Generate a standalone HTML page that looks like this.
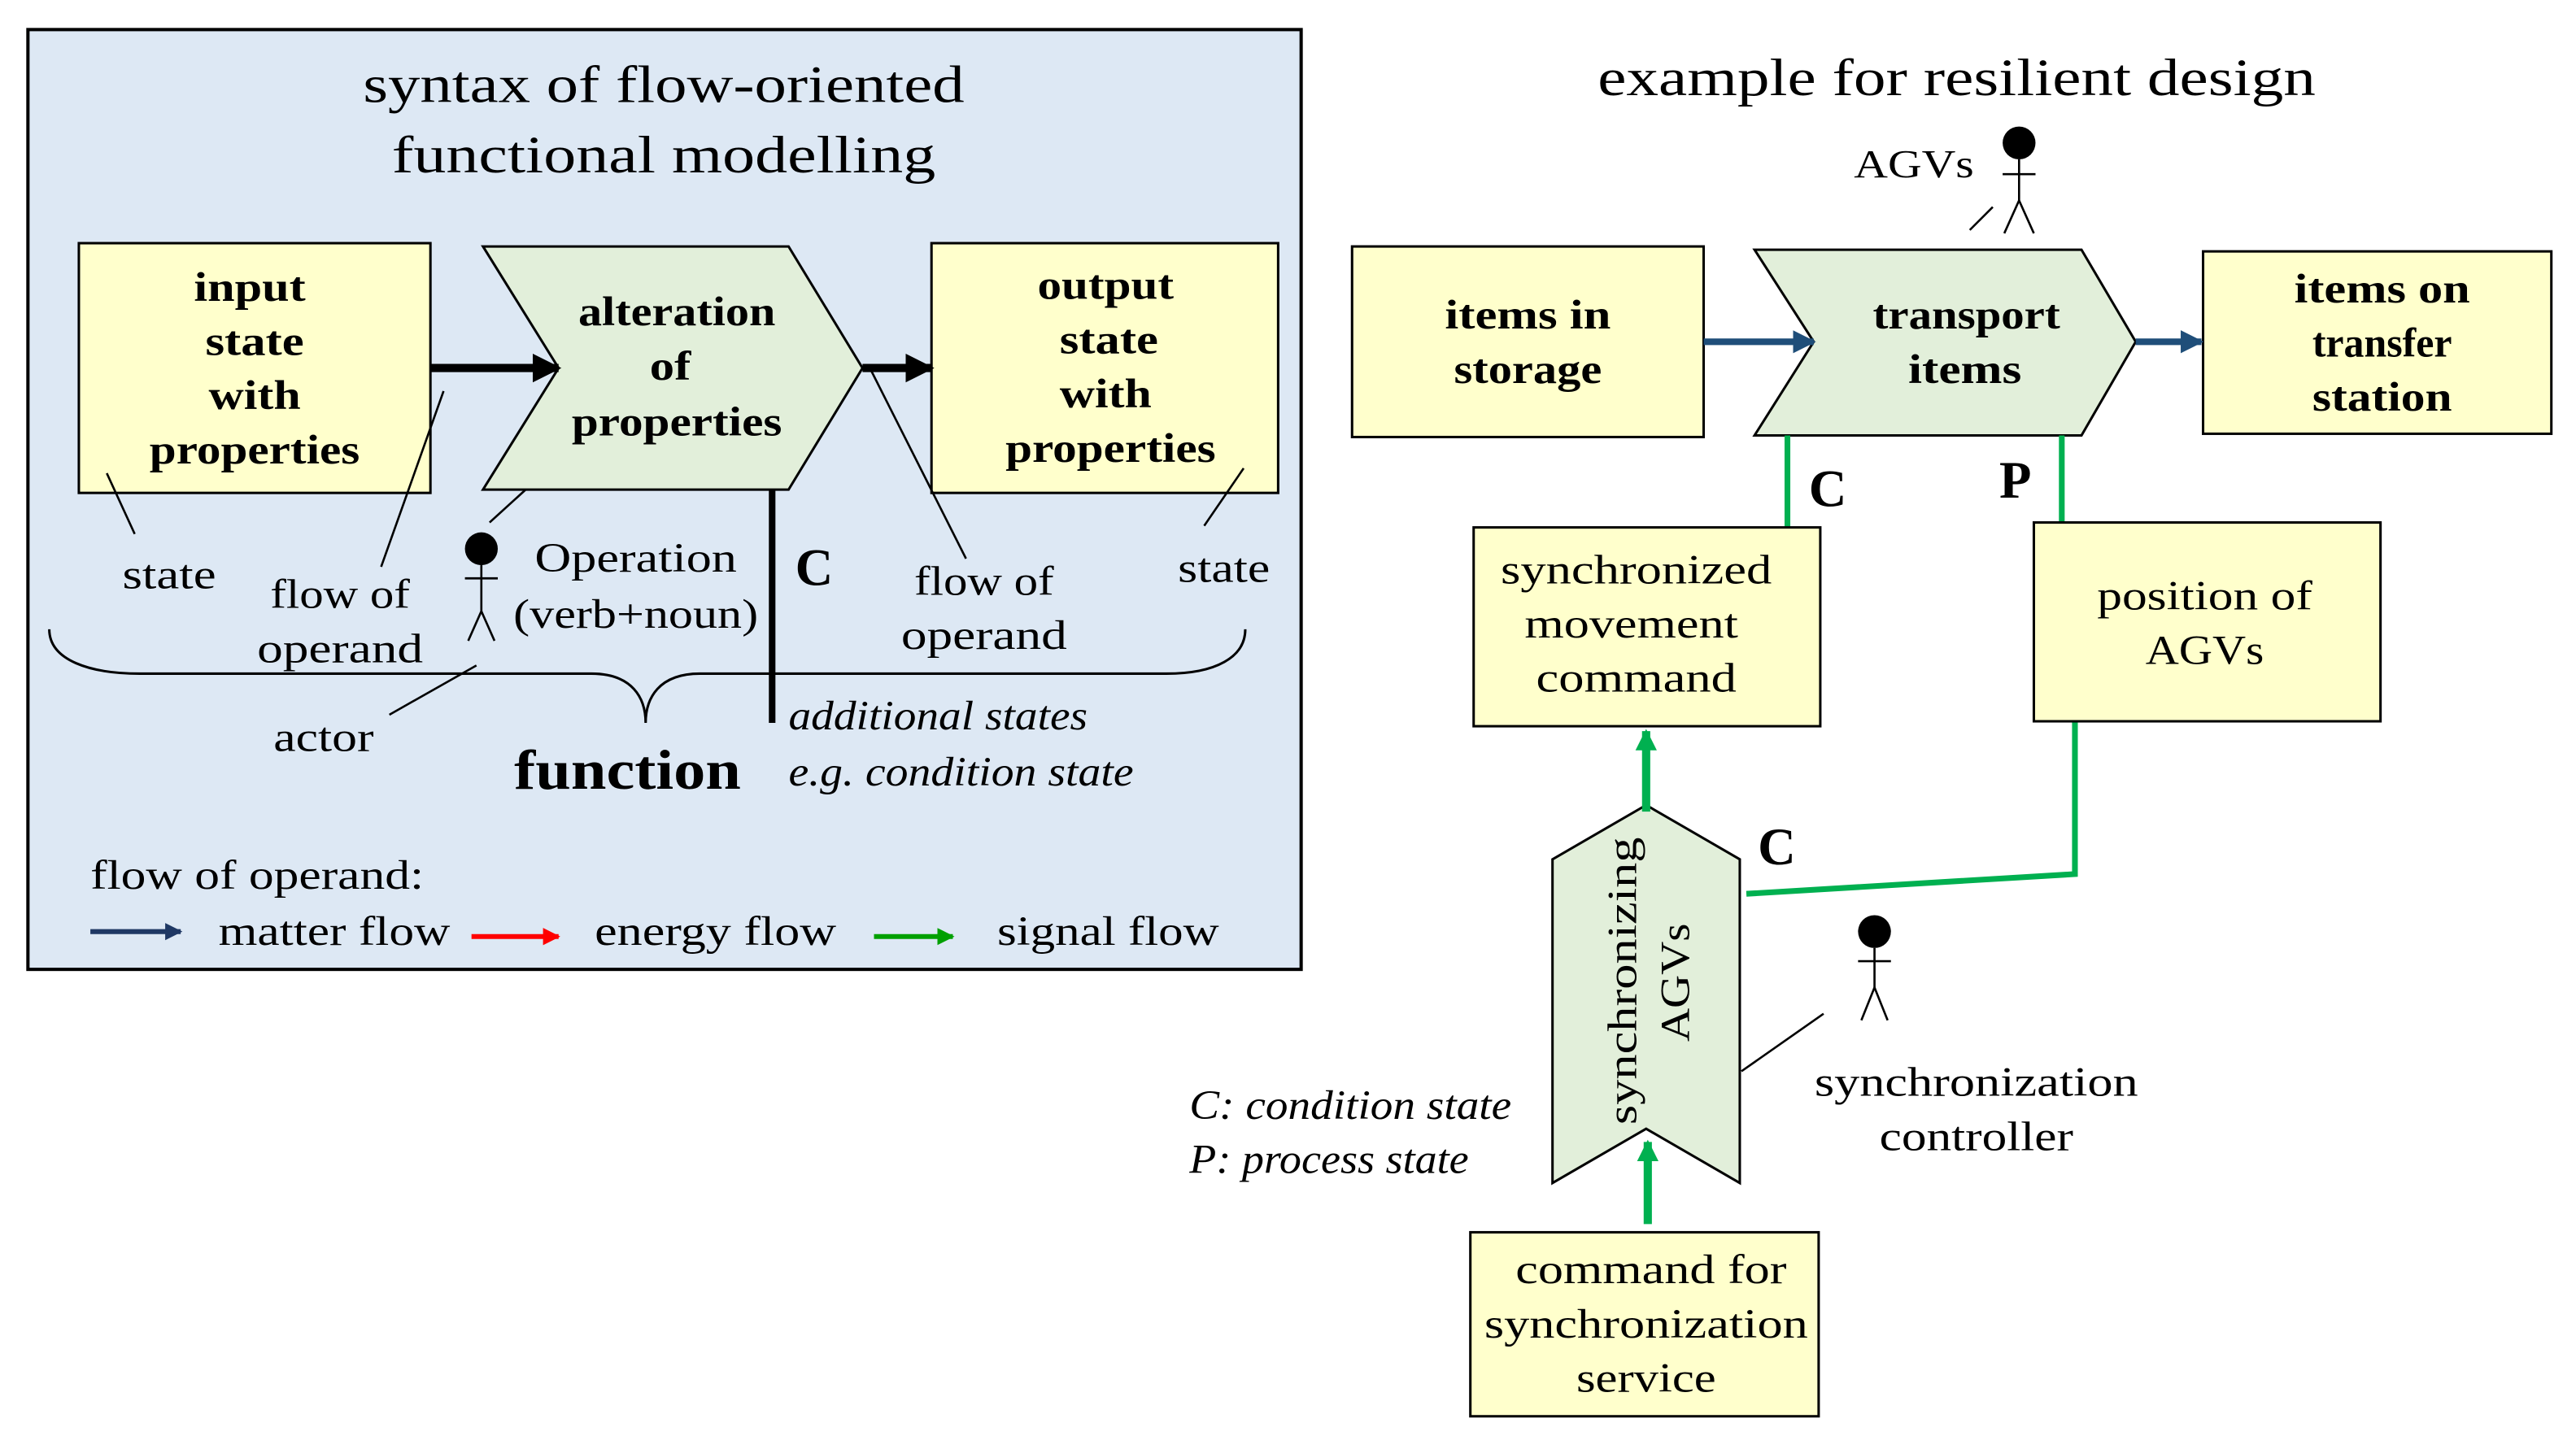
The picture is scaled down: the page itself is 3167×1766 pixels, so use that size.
<!DOCTYPE html>
<html><head><meta charset="utf-8"><style>
html,body{margin:0;padding:0;background:#fff}
svg{display:block}
text{font-family:"Liberation Serif","DejaVu Serif",serif;fill:#000}
.b{font-weight:bold}
.m{text-anchor:middle}
.i{font-style:italic}
</style></head><body>
<svg width="3167" height="1766" viewBox="0 0 1568 874" preserveAspectRatio="none" xmlns="http://www.w3.org/2000/svg">
<defs>
<marker id="ak" viewBox="0 0 10 10" refX="9" refY="5" markerWidth="3.5" markerHeight="3.5" orient="auto"><path d="M0,0L10,5L0,10z" fill="#000"/></marker>
<marker id="ab" viewBox="0 0 10 10" refX="9" refY="5" markerWidth="3.5" markerHeight="3.5" orient="auto"><path d="M0,0L10,5L0,10z" fill="#1f4e79"/></marker>
<marker id="an" viewBox="0 0 10 10" refX="9" refY="5" markerWidth="3.5" markerHeight="3.5" orient="auto"><path d="M0,0L10,5L0,10z" fill="#1f3864"/></marker>
<marker id="ar" viewBox="0 0 10 10" refX="9" refY="5" markerWidth="3.5" markerHeight="3.5" orient="auto"><path d="M0,0L10,5L0,10z" fill="#ff0000"/></marker>
<marker id="ag" viewBox="0 0 10 10" refX="9" refY="5" markerWidth="3.5" markerHeight="3.5" orient="auto"><path d="M0,0L10,5L0,10z" fill="#00a000"/></marker>
<marker id="ag2" viewBox="0 0 10 10" refX="9" refY="5" markerWidth="2.6" markerHeight="2.6" orient="auto"><path d="M0,0L10,5L0,10z" fill="#00b050"/></marker>
</defs>
<g lengthAdjust="spacingAndGlyphs">
<!-- left panel -->
<rect x="17" y="18" width="775" height="572" fill="#dde8f4" stroke="#000" stroke-width="2"/>
<text class="m" x="404" y="62" font-size="32" textLength="366" lengthAdjust="spacingAndGlyphs">syntax of flow-oriented</text>
<text class="m" x="404" y="105" font-size="32" textLength="331" lengthAdjust="spacingAndGlyphs">functional modelling</text>
<rect x="48" y="148" width="214" height="152" fill="#ffffcc" stroke="#000" stroke-width="1.5"/>
<text class="b m" x="152" y="183" font-size="25" textLength="68" lengthAdjust="spacingAndGlyphs">input</text>
<text class="b m" x="155" y="216" font-size="25" textLength="60" lengthAdjust="spacingAndGlyphs">state</text>
<text class="b m" x="155" y="249" font-size="25" textLength="56" lengthAdjust="spacingAndGlyphs">with</text>
<text class="b m" x="155" y="282" font-size="25" textLength="128" lengthAdjust="spacingAndGlyphs">properties</text>
<polygon points="294,150 480,150 525,224 480,298 294,298 340,224" fill="#e2efda" stroke="#000" stroke-width="1.5"/>
<text class="b m" x="412" y="198" font-size="25" textLength="120" lengthAdjust="spacingAndGlyphs">alteration</text>
<text class="b m" x="408" y="231" font-size="25" textLength="25" lengthAdjust="spacingAndGlyphs">of</text>
<text class="b m" x="412" y="265" font-size="25" textLength="128" lengthAdjust="spacingAndGlyphs">properties</text>
<rect x="567" y="148" width="211" height="152" fill="#ffffcc" stroke="#000" stroke-width="1.5"/>
<text class="b m" x="673" y="182" font-size="25" textLength="83" lengthAdjust="spacingAndGlyphs">output</text>
<text class="b m" x="675" y="215" font-size="25" textLength="60" lengthAdjust="spacingAndGlyphs">state</text>
<text class="b m" x="673" y="248" font-size="25" textLength="56" lengthAdjust="spacingAndGlyphs">with</text>
<text class="b m" x="676" y="281" font-size="25" textLength="128" lengthAdjust="spacingAndGlyphs">properties</text>
<line x1="262" y1="224" x2="340" y2="224" stroke="#000" stroke-width="5" marker-end="url(#ak)"/>
<line x1="525" y1="224" x2="567" y2="224" stroke="#000" stroke-width="5" marker-end="url(#ak)"/>
<line x1="470" y1="298" x2="470" y2="440" stroke="#000" stroke-width="4"/>
<text class="b" x="484" y="356" font-size="32">C</text>
<g stroke="#000" stroke-width="1.3">
<line x1="65" y1="288" x2="82" y2="325"/><line x1="270" y1="238" x2="232" y2="345"/><line x1="320" y1="298" x2="298" y2="318"/><line x1="530" y1="225" x2="588" y2="340"/><line x1="757" y1="285" x2="733" y2="320"/><line x1="290" y1="405" x2="237" y2="435"/>
</g>
<text class="m" x="103" y="358" font-size="25" textLength="57" lengthAdjust="spacingAndGlyphs">state</text>
<text class="m" x="207" y="370" font-size="25" textLength="85" lengthAdjust="spacingAndGlyphs">flow of</text>
<text class="m" x="207" y="403" font-size="25" textLength="101" lengthAdjust="spacingAndGlyphs">operand</text>
<text class="m" x="387" y="348" font-size="25" textLength="123" lengthAdjust="spacingAndGlyphs">Operation</text>
<text class="m" x="387" y="382" font-size="25" textLength="149" lengthAdjust="spacingAndGlyphs">(verb+noun)</text>
<text class="m" x="599" y="362" font-size="25" textLength="85" lengthAdjust="spacingAndGlyphs">flow of</text>
<text class="m" x="599" y="395" font-size="25" textLength="101" lengthAdjust="spacingAndGlyphs">operand</text>
<text class="m" x="745" y="354" font-size="25" textLength="56" lengthAdjust="spacingAndGlyphs">state</text>
<text class="m" x="197" y="457" font-size="25" textLength="61" lengthAdjust="spacingAndGlyphs">actor</text>
<circle cx="293" cy="334" r="10" fill="#000"/>
<g stroke="#000" stroke-width="1.3" fill="none"><line x1="293" y1="344" x2="293" y2="372"/><line x1="283" y1="352" x2="303" y2="352"/><polyline points="285,390 293,372 301,390"/></g>
<path d="M30,383 C30,402 55,410 85,410 L360,410 C385,410 393,425 393,440 C393,425 401,410 426,410 L710,410 C740,410 758,400 758,383" fill="none" stroke="#000" stroke-width="1.5"/>
<text class="b m" x="382" y="480" font-size="34" textLength="138" lengthAdjust="spacingAndGlyphs">function</text>
<text class="i" x="480" y="444" font-size="25" textLength="182" lengthAdjust="spacingAndGlyphs">additional states</text>
<text class="i" x="480" y="478" font-size="25" textLength="210" lengthAdjust="spacingAndGlyphs">e.g. condition state</text>
<text x="55" y="541" font-size="25" textLength="203" lengthAdjust="spacingAndGlyphs">flow of operand:</text>
<line x1="55" y1="567" x2="110" y2="567" stroke="#1f3864" stroke-width="3" marker-end="url(#an)"/>
<text x="133" y="575" font-size="25" textLength="141" lengthAdjust="spacingAndGlyphs">matter flow</text>
<line x1="287" y1="570" x2="340" y2="570" stroke="#ff0000" stroke-width="3" marker-end="url(#ar)"/>
<text x="362" y="575" font-size="25" textLength="147" lengthAdjust="spacingAndGlyphs">energy flow</text>
<line x1="532" y1="570" x2="580" y2="570" stroke="#00a000" stroke-width="3" marker-end="url(#ag)"/>
<text x="607" y="575" font-size="25" textLength="135" lengthAdjust="spacingAndGlyphs">signal flow</text>
<!-- right -->
<text class="m" x="1191" y="58" font-size="32" textLength="437" lengthAdjust="spacingAndGlyphs">example for resilient design</text>
<text class="m" x="1165" y="108" font-size="24" textLength="73" lengthAdjust="spacingAndGlyphs">AGVs</text>
<circle cx="1229" cy="87" r="10" fill="#000"/>
<g stroke="#000" stroke-width="1.3" fill="none"><line x1="1229" y1="97" x2="1229" y2="122"/><line x1="1219" y1="106" x2="1239" y2="106"/><polyline points="1220,142 1229,122 1238,142"/><line x1="1213" y1="126" x2="1199" y2="140"/></g>
<rect x="823" y="150" width="214" height="116" fill="#ffffcc" stroke="#000" stroke-width="1.5"/>
<text class="b m" x="930" y="200" font-size="25" textLength="101" lengthAdjust="spacingAndGlyphs">items in</text>
<text class="b m" x="930" y="233" font-size="25" textLength="90" lengthAdjust="spacingAndGlyphs">storage</text>
<polygon points="1068,152 1267,152 1300,208 1267,265 1068,265 1104,208" fill="#e2efda" stroke="#000" stroke-width="1.5"/>
<text class="b m" x="1197" y="200" font-size="25" textLength="114" lengthAdjust="spacingAndGlyphs">transport</text>
<text class="b m" x="1196" y="233" font-size="25" textLength="69" lengthAdjust="spacingAndGlyphs">items</text>
<rect x="1341" y="153" width="212" height="111" fill="#ffffcc" stroke="#000" stroke-width="1.5"/>
<text class="b m" x="1450" y="184" font-size="25" textLength="107" lengthAdjust="spacingAndGlyphs">items on</text>
<text class="b m" x="1450" y="217" font-size="25" textLength="85" lengthAdjust="spacingAndGlyphs">transfer</text>
<text class="b m" x="1450" y="250" font-size="25" textLength="85" lengthAdjust="spacingAndGlyphs">station</text>
<line x1="1037" y1="208" x2="1104" y2="208" stroke="#1f4e79" stroke-width="4" marker-end="url(#ab)"/>
<line x1="1300" y1="208" x2="1340" y2="208" stroke="#1f4e79" stroke-width="4" marker-end="url(#ab)"/>
<g stroke="#00b050" stroke-width="3.5" fill="none"><line x1="1088" y1="265" x2="1088" y2="321"/><line x1="1255" y1="265" x2="1255" y2="318"/><polyline points="1263,439 1263,532 1063,544"/></g>
<text class="b" x="1101" y="308" font-size="32">C</text>
<text class="b" x="1217" y="303" font-size="32">P</text>
<text class="b" x="1070" y="526" font-size="32">C</text>
<rect x="897" y="321" width="211" height="121" fill="#ffffcc" stroke="#000" stroke-width="1.5"/>
<text class="m" x="996" y="355" font-size="25" textLength="165" lengthAdjust="spacingAndGlyphs">synchronized</text>
<text class="m" x="993" y="388" font-size="25" textLength="130" lengthAdjust="spacingAndGlyphs">movement</text>
<text class="m" x="996" y="421" font-size="25" textLength="122" lengthAdjust="spacingAndGlyphs">command</text>
<rect x="1238" y="318" width="211" height="121" fill="#ffffcc" stroke="#000" stroke-width="1.5"/>
<text class="m" x="1342" y="371" font-size="25" textLength="131" lengthAdjust="spacingAndGlyphs">position of</text>
<text class="m" x="1342" y="404" font-size="25" textLength="72" lengthAdjust="spacingAndGlyphs">AGVs</text>
<polygon points="945,523 1002,490 1059,523 1059,720 1002,687 945,720" fill="#e2efda" stroke="#000" stroke-width="1.5"/>
<text class="m" font-size="25" transform="translate(996,597) rotate(-90)" textLength="175" lengthAdjust="spacingAndGlyphs">synchronizing</text>
<text class="m" font-size="25" transform="translate(1028,598) rotate(-90)" textLength="72" lengthAdjust="spacingAndGlyphs">AGVs</text>
<line x1="1002" y1="494" x2="1002" y2="445" stroke="#00b050" stroke-width="5" marker-end="url(#ag2)"/>
<line x1="1003" y1="745" x2="1003" y2="695" stroke="#00b050" stroke-width="5" marker-end="url(#ag2)"/>
<circle cx="1141" cy="567" r="10" fill="#000"/>
<g stroke="#000" stroke-width="1.3" fill="none"><line x1="1141" y1="577" x2="1141" y2="601"/><line x1="1131" y1="585" x2="1151" y2="585"/><polyline points="1133,621 1141,601 1149,621"/><line x1="1110" y1="617" x2="1060" y2="652"/></g>
<text class="m" x="1203" y="667" font-size="25" textLength="197" lengthAdjust="spacingAndGlyphs">synchronization</text>
<text class="m" x="1203" y="700" font-size="25" textLength="118" lengthAdjust="spacingAndGlyphs">controller</text>
<text class="i" x="724" y="681" font-size="25" textLength="196" lengthAdjust="spacingAndGlyphs">C: condition state</text>
<text class="i" x="724" y="714" font-size="25" textLength="170" lengthAdjust="spacingAndGlyphs">P: process state</text>
<rect x="895" y="750" width="212" height="112" fill="#ffffcc" stroke="#000" stroke-width="1.5"/>
<text class="m" x="1005" y="781" font-size="25" textLength="165" lengthAdjust="spacingAndGlyphs">command for</text>
<text class="m" x="1002" y="814" font-size="25" textLength="197" lengthAdjust="spacingAndGlyphs">synchronization</text>
<text class="m" x="1002" y="847" font-size="25" textLength="85" lengthAdjust="spacingAndGlyphs">service</text>
</g>
</svg>
</body></html>
